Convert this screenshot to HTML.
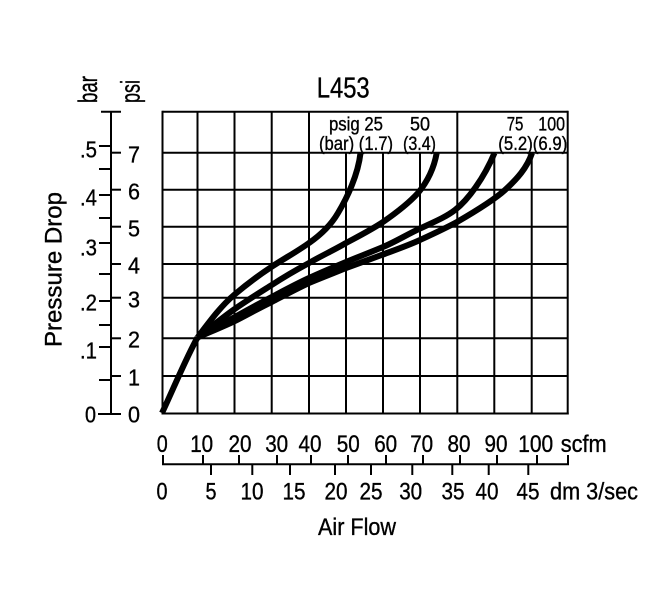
<!DOCTYPE html>
<html><head><meta charset="utf-8"><style>
html,body{margin:0;padding:0;background:#fff;}
svg{display:block;}
text{font-family:"Liberation Sans",Arial,sans-serif;fill:#000;stroke:#000;stroke-width:0.35px;}
</style></head><body>
<svg width="650" height="603" viewBox="0 0 650 603" xmlns="http://www.w3.org/2000/svg">
<rect width="650" height="603" fill="#fff"/>
<!-- grid -->
<g stroke="#000" stroke-width="2" fill="none">
<line x1="162.5" y1="111.7" x2="567.7" y2="111.7"/>
<line x1="162.5" y1="152.7" x2="567.7" y2="152.7"/>
<line x1="162.5" y1="189.7" x2="567.7" y2="189.7"/>
<line x1="162.5" y1="226.7" x2="567.7" y2="226.7"/>
<line x1="162.5" y1="264" x2="567.7" y2="264"/>
<line x1="162.5" y1="297.7" x2="567.7" y2="297.7"/>
<line x1="162.5" y1="338.3" x2="567.7" y2="338.3"/>
<line x1="162.5" y1="376" x2="567.7" y2="376"/>
<line x1="161.5" y1="413.5" x2="568.7" y2="413.5"/>
<line x1="162.5" y1="110.7" x2="162.5" y2="414.5"/>
<line x1="197.5" y1="111.7" x2="197.5" y2="413.5"/>
<line x1="234.5" y1="111.7" x2="234.5" y2="413.5"/>
<line x1="271.7" y1="111.7" x2="271.7" y2="413.5"/>
<line x1="309" y1="111.7" x2="309" y2="413.5"/>
<line x1="457.3" y1="111.7" x2="457.3" y2="413.5"/>
<line x1="567.7" y1="110.7" x2="567.7" y2="414.5"/>
<line x1="346" y1="152.7" x2="346" y2="413.5"/>
<line x1="383" y1="152.7" x2="383" y2="413.5"/>
<line x1="420" y1="152.7" x2="420" y2="413.5"/>
<line x1="494.3" y1="152.7" x2="494.3" y2="413.5"/>
<line x1="531.7" y1="152.7" x2="531.7" y2="413.5"/>
</g>
<!-- left axis -->
<g stroke="#000" stroke-width="2" fill="none">
<line x1="111" y1="111.7" x2="111" y2="414"/>
<line x1="101" y1="111.7" x2="121" y2="111.7"/>
<line x1="98" y1="414" x2="121" y2="414"/>
<line x1="111" y1="152.7" x2="121" y2="152.7"/>
<line x1="111" y1="189.7" x2="121" y2="189.7"/>
<line x1="111" y1="226.7" x2="121" y2="226.7"/>
<line x1="111" y1="264" x2="121" y2="264"/>
<line x1="111" y1="297.7" x2="121" y2="297.7"/>
<line x1="111" y1="338.3" x2="121" y2="338.3"/>
<line x1="111" y1="376" x2="121" y2="376"/>
<line x1="99" y1="146" x2="111" y2="146"/>
<line x1="99" y1="169" x2="111" y2="169"/>
<line x1="99" y1="195" x2="111" y2="195"/>
<line x1="99" y1="218" x2="111" y2="218"/>
<line x1="99" y1="243" x2="111" y2="243"/>
<line x1="99" y1="274" x2="111" y2="274"/>
<line x1="99" y1="301" x2="111" y2="301"/>
<line x1="99" y1="325" x2="111" y2="325"/>
<line x1="99" y1="347" x2="111" y2="347"/>
<line x1="99" y1="380" x2="111" y2="380"/>
</g>
<!-- psi labels -->
<g font-size="23.5" text-anchor="middle">
<text x="134" y="162.5" textLength="12" lengthAdjust="spacingAndGlyphs">7</text>
<text x="134" y="199.5" textLength="12" lengthAdjust="spacingAndGlyphs">6</text>
<text x="134" y="236.5" textLength="12" lengthAdjust="spacingAndGlyphs">5</text>
<text x="134" y="273.5" textLength="12" lengthAdjust="spacingAndGlyphs">4</text>
<text x="134" y="307.5" textLength="12" lengthAdjust="spacingAndGlyphs">3</text>
<text x="134" y="347.5" textLength="12" lengthAdjust="spacingAndGlyphs">2</text>
<text x="134" y="385.5" textLength="12" lengthAdjust="spacingAndGlyphs">1</text>
<text x="134" y="422.5" textLength="12" lengthAdjust="spacingAndGlyphs">0</text>
</g>
<!-- bar labels -->
<g font-size="23.5" text-anchor="end">
<text x="97" y="157.5" textLength="17" lengthAdjust="spacingAndGlyphs">.5</text>
<text x="97" y="205.5" textLength="17" lengthAdjust="spacingAndGlyphs">.4</text>
<text x="97" y="255.5" textLength="17" lengthAdjust="spacingAndGlyphs">.3</text>
<text x="97" y="310.5" textLength="17" lengthAdjust="spacingAndGlyphs">.2</text>
<text x="97" y="358.5" textLength="17" lengthAdjust="spacingAndGlyphs">.1</text>
<text x="96" y="422.5" textLength="11" lengthAdjust="spacingAndGlyphs">0</text>
</g>
<text font-size="27" transform="translate(97,103) rotate(-90)" textLength="27" lengthAdjust="spacingAndGlyphs">bar</text>
<text font-size="27" transform="translate(139.5,103) rotate(-90)" textLength="23" lengthAdjust="spacingAndGlyphs">psi</text>
<text font-size="24" text-anchor="middle" transform="translate(61.5,269.5) rotate(-90)" textLength="155" lengthAdjust="spacingAndGlyphs">Pressure Drop</text>
<!-- title -->
<text x="316.7" y="97.3" font-size="28.5" textLength="53" lengthAdjust="spacingAndGlyphs">L453</text>
<!-- legend -->
<g font-size="19.5">
<text x="329" y="130.7" textLength="54" lengthAdjust="spacingAndGlyphs">psig 25</text>
<text x="410" y="130.7" textLength="20" lengthAdjust="spacingAndGlyphs">50</text>
<text x="319" y="150" textLength="74" lengthAdjust="spacingAndGlyphs">(bar) (1.7)</text>
<text x="403" y="150" textLength="33" lengthAdjust="spacingAndGlyphs">(3.4)</text>
<text x="506.7" y="130.7" textLength="16.7" lengthAdjust="spacingAndGlyphs">75</text>
<text x="538.3" y="130.7" textLength="26.7" lengthAdjust="spacingAndGlyphs">100</text>
<text x="498.3" y="150" textLength="69" lengthAdjust="spacingAndGlyphs">(5.2)(6.9)</text>
</g>
<!-- curves -->
<g stroke="#000" stroke-width="6" fill="none" stroke-linejoin="round" stroke-linecap="butt">
<path d="M162,413 C172,392 186,358 197.5,337.5"/>
<path d="M197.5,337.5 C210,321 221,306 234,295 C247,284 259,275 271.7,266.7 C285,258 298,251 309,243 C322,234 331,225 338,213 C347,198 358,175 360.5,153"/>
<path d="M197.5,337.5 C210,328 222,318 234,309.5 C246,301 259,293 271.7,285 C284,277 296,270 309,263 C321,256 334,250 346,243 C359,236 371,230 383,222 C396,213 408,204 418,193 C428,181 434,168 436.7,153"/>
<path d="M197.5,337.5 C210,330 222,324 234,317.5 C246,311 259,303.5 271.7,297 C284,290.5 296,284 309,278 C321,272.5 334,267 346,262 C358,257 371,252 383,247 C395,242 408,234 420,228.5 C434,222 446,217 455,210 C468,200 484,178 494.5,153"/>
<path d="M197.5,337.5 C210,332 222,327 234,321.5 C247,315 259,308 271.7,302 C284,295.5 296,289 309,283 C321,278 334,273 346,268 C358,263.5 371,259 383,254.5 C395,250 408,245.5 420,240 C433,234 445,228.5 457,222 C476,211 494,200 505,190 C517,179 527,168 532,153"/>
</g>
<!-- x axis labels scfm -->
<g font-size="24" text-anchor="middle">
<text x="162.3" y="452" textLength="11" lengthAdjust="spacingAndGlyphs">0</text>
<text x="201.7" y="452" textLength="23" lengthAdjust="spacingAndGlyphs">10</text>
<text x="240" y="452" textLength="23" lengthAdjust="spacingAndGlyphs">20</text>
<text x="276.7" y="452" textLength="23" lengthAdjust="spacingAndGlyphs">30</text>
<text x="310" y="452" textLength="23" lengthAdjust="spacingAndGlyphs">40</text>
<text x="348.3" y="452" textLength="23" lengthAdjust="spacingAndGlyphs">50</text>
<text x="385.7" y="452" textLength="23" lengthAdjust="spacingAndGlyphs">60</text>
<text x="421.7" y="452" textLength="23" lengthAdjust="spacingAndGlyphs">70</text>
<text x="459" y="452" textLength="23" lengthAdjust="spacingAndGlyphs">80</text>
<text x="496" y="452" textLength="23" lengthAdjust="spacingAndGlyphs">90</text>
<text x="535.7" y="452" textLength="35" lengthAdjust="spacingAndGlyphs">100</text>
</g>
<text x="560.7" y="452" font-size="24" textLength="46" lengthAdjust="spacingAndGlyphs">scfm</text>
<!-- tick axis -->
<g stroke="#000" stroke-width="2" fill="none">
<line x1="162" y1="464.3" x2="569" y2="464.3"/>
<line x1="163" y1="455" x2="163" y2="464.3"/>
<line x1="203" y1="455" x2="203" y2="464.3"/>
<line x1="239" y1="455" x2="239" y2="464.3"/>
<line x1="277" y1="455" x2="277" y2="464.3"/>
<line x1="311" y1="455" x2="311" y2="464.3"/>
<line x1="348" y1="455" x2="348" y2="464.3"/>
<line x1="386" y1="455" x2="386" y2="464.3"/>
<line x1="423" y1="455" x2="423" y2="464.3"/>
<line x1="460" y1="455" x2="460" y2="464.3"/>
<line x1="497" y1="455" x2="497" y2="464.3"/>
<line x1="537" y1="455" x2="537" y2="464.3"/>
<line x1="568" y1="455" x2="568" y2="464.3"/>
<line x1="211" y1="464.3" x2="211" y2="475"/>
<line x1="252.3" y1="464.3" x2="252.3" y2="475"/>
<line x1="290" y1="464.3" x2="290" y2="475"/>
<line x1="335" y1="464.3" x2="335" y2="475"/>
<line x1="371" y1="464.3" x2="371" y2="475"/>
<line x1="412.3" y1="464.3" x2="412.3" y2="475"/>
<line x1="452.3" y1="464.3" x2="452.3" y2="475"/>
<line x1="488.7" y1="464.3" x2="488.7" y2="475"/>
<line x1="528.3" y1="464.3" x2="528.3" y2="475"/>
</g>
<!-- dm labels -->
<g font-size="24" text-anchor="middle">
<text x="162" y="499.5" textLength="11" lengthAdjust="spacingAndGlyphs">0</text>
<text x="211" y="499.5" textLength="11" lengthAdjust="spacingAndGlyphs">5</text>
<text x="252" y="499.5" textLength="23" lengthAdjust="spacingAndGlyphs">10</text>
<text x="294" y="499.5" textLength="23" lengthAdjust="spacingAndGlyphs">15</text>
<text x="336" y="499.5" textLength="23" lengthAdjust="spacingAndGlyphs">20</text>
<text x="371" y="499.5" textLength="23" lengthAdjust="spacingAndGlyphs">25</text>
<text x="410.7" y="499.5" textLength="23" lengthAdjust="spacingAndGlyphs">30</text>
<text x="453" y="499.5" textLength="23" lengthAdjust="spacingAndGlyphs">35</text>
<text x="487" y="499.5" textLength="23" lengthAdjust="spacingAndGlyphs">40</text>
<text x="528" y="499.5" textLength="23" lengthAdjust="spacingAndGlyphs">45</text>
</g>
<text x="550" y="499.5" font-size="24" textLength="88" lengthAdjust="spacingAndGlyphs">dm 3/sec</text>
<text x="318" y="535" font-size="24" textLength="78" lengthAdjust="spacingAndGlyphs">Air Flow</text>
</svg>
</body></html>
